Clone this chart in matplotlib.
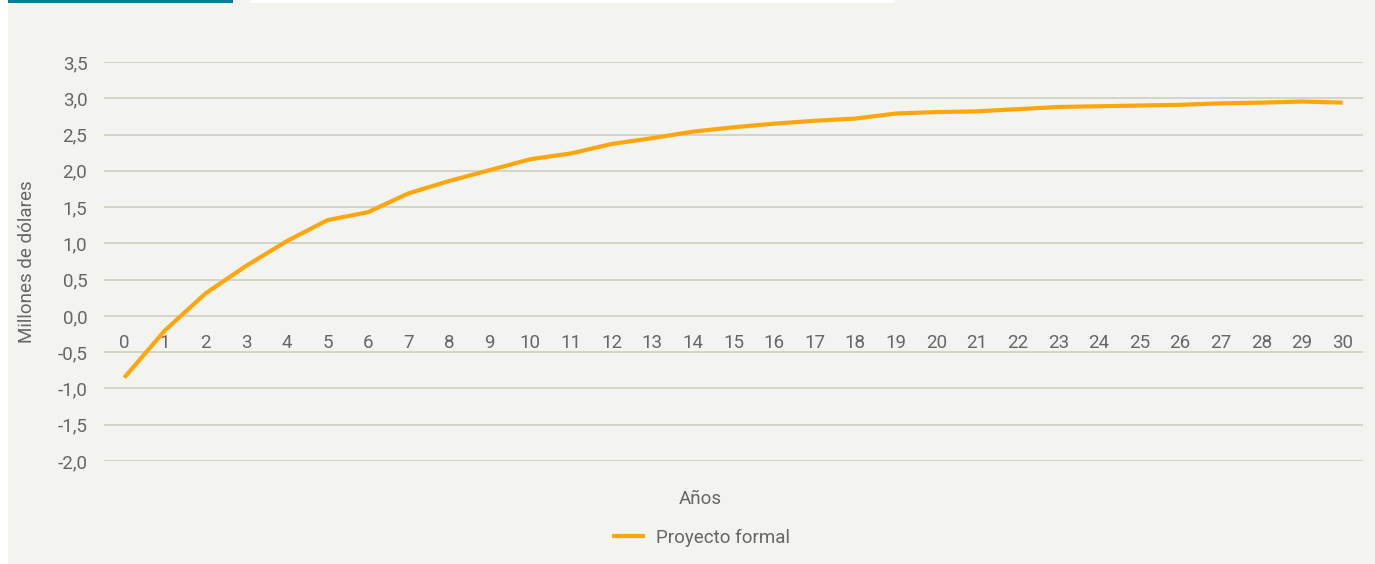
import matplotlib.pyplot as plt
from matplotlib.patches import Rectangle

plt.rcParams["font.family"] = ["Roboto", "DejaVu Sans"]

# data (millions of dollars, by year)
years = list(range(31))
proyecto_formal = [
    -0.85, -0.20, 0.31, 0.69, 1.03, 1.32, 1.43, 1.69, 1.86, 2.01,
    2.16, 2.24, 2.37, 2.45, 2.54, 2.60, 2.65, 2.69, 2.72, 2.79,
    2.81, 2.82, 2.85, 2.88, 2.89, 2.90, 2.91, 2.93, 2.94, 2.955,
    2.94,
]
y_ticks = [-2.0, -1.5, -1.0, -0.5, 0.0, 0.5, 1.0, 1.5, 2.0, 2.5, 3.0, 3.5]

BG = "#f3f4ef"
GRID = "#cdd1c0"
TEXT = "#666666"
ORANGE = "#ffa50d"
FS = 13.5

W, H = 1375, 564


def main():
    fig = plt.figure(figsize=(W / 100, H / 100), dpi=100, facecolor="white")

    # panel background and top decoration bars
    fig.patches.append(Rectangle((8 / W, 0), 1 - 8 / W, 1, transform=fig.transFigure,
                                 facecolor=BG, edgecolor="none", zorder=-10))
    fig.patches.append(Rectangle((8 / W, 1 - 3 / H), 225 / W, 3 / H, transform=fig.transFigure,
                                 facecolor="#087c9b", edgecolor="none", zorder=-5))
    fig.patches.append(Rectangle((250 / W, 1 - 3 / H), 645 / W, 3 / H, transform=fig.transFigure,
                                 facecolor="white", edgecolor="none", zorder=-5))

    ax = fig.add_axes([104 / W, 1 - 461 / H, (1363 - 104) / W, (461 - 62) / H])
    ax.set_facecolor(BG)

    ax.plot(years, proyecto_formal, color=ORANGE, lw=3.0, solid_joinstyle="round",
            solid_capstyle="butt", label="Proyecto formal", zorder=3)

    ax.set_xlim(-0.5, 30.5)
    ax.set_ylim(-2.0, 3.5)
    ax.set_yticks(y_ticks)
    ax.set_yticklabels([f"{v:.1f}".replace(".", ",") for v in y_ticks])
    ax.set_xticks(years)
    ax.set_xticklabels([str(y) for y in years])

    ax.grid(axis="y", color=GRID, lw=1.2)
    ax.set_axisbelow(True)
    for side in ["top", "right", "left"]:
        ax.spines[side].set_visible(False)
    # years sit right under the zero line
    ax.spines["bottom"].set_position(("data", 0))
    ax.spines["bottom"].set_visible(False)

    ax.tick_params(axis="y", length=0, pad=12, labelsize=FS, labelcolor=TEXT)
    ax.tick_params(axis="x", length=0, pad=13, labelsize=FS, labelcolor=TEXT)

    fig.text(27 / W, 1 - 262 / H, "Millones de dólares", rotation=90, ha="center",
             va="center", fontsize=FS, color=TEXT)
    fig.text(700 / W, 1 - 499 / H, "Años", ha="center", va="center",
             fontsize=FS, color=TEXT)

    leg = fig.legend(loc="center", bbox_to_anchor=(701 / W, 1 - 538 / H), frameon=False,
                     fontsize=FS, handlelength=1.8, handletextpad=0.6)
    for t in leg.get_texts():
        t.set_color(TEXT)

    fig.savefig("out.png", dpi=100, facecolor=fig.get_facecolor())


if __name__ == "__main__":
    main()
